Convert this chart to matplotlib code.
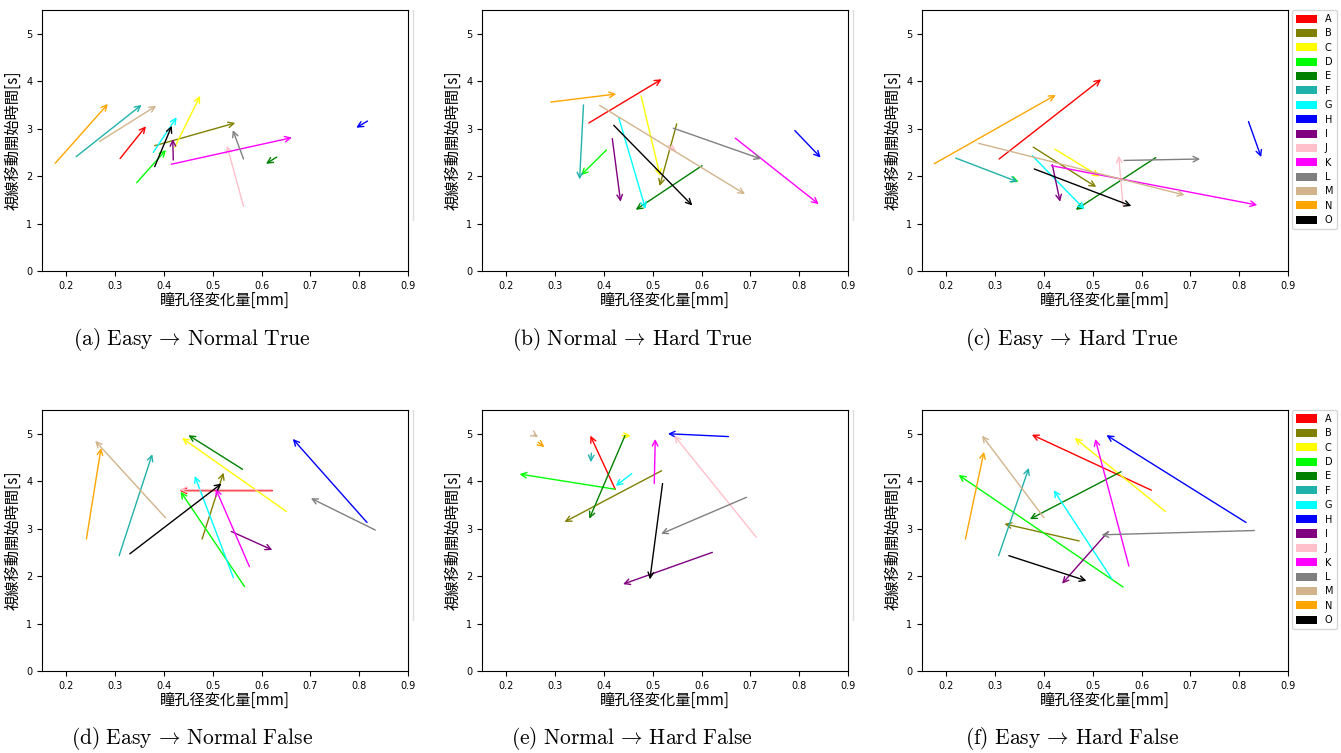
import numpy as np
import matplotlib
matplotlib.use('Agg')
import matplotlib.pyplot as plt
from matplotlib.patches import Patch

plt.rcParams['mathtext.fontset'] = 'cm'

# participants and colours
names = ['A', 'B', 'C', 'D', 'E', 'F', 'G', 'H', 'I', 'J', 'K', 'L', 'M', 'N', 'O']
colors = ['red', 'olive', 'yellow', 'lime', 'green', 'lightseagreen', 'cyan', 'blue',
          'purple', 'pink', 'magenta', 'gray', 'tan', 'orange', 'black']

# (a) Easy -> Normal True
a_x0 = [0.310, 0.381, 0.422, 0.344, 0.631, 0.220, 0.378, 0.817, 0.419, 0.563, 0.415, 0.563, 0.268, 0.177, 0.381]
a_y0 = [2.37, 2.64, 2.61, 1.86, 2.40, 2.41, 2.50, 3.16, 2.34, 1.36, 2.25, 2.36, 2.73, 2.27, 2.20]
a_x1 = [0.363, 0.546, 0.474, 0.404, 0.609, 0.354, 0.426, 0.794, 0.418, 0.529, 0.662, 0.541, 0.384, 0.285, 0.416]
a_y1 = [3.05, 3.12, 3.69, 2.55, 2.26, 3.50, 3.24, 3.02, 2.78, 2.64, 2.81, 2.97, 3.48, 3.52, 3.06]

# (b) Normal -> Hard True
b_x0 = [0.369, 0.549, 0.476, 0.405, 0.601, 0.358, 0.430, 0.791, 0.417, 0.532, 0.669, 0.542, 0.391, 0.291, 0.420]
b_y0 = [3.12, 3.10, 3.69, 2.55, 2.22, 3.50, 3.24, 2.96, 2.79, 2.64, 2.80, 3.01, 3.49, 3.56, 3.07]
b_x1 = [0.518, 0.514, 0.515, 0.353, 0.465, 0.350, 0.485, 0.844, 0.434, 0.548, 0.840, 0.722, 0.689, 0.425, 0.581]
b_y1 = [4.04, 1.79, 2.00, 2.02, 1.29, 1.93, 1.31, 2.39, 1.46, 2.52, 1.41, 2.36, 1.62, 3.73, 1.38]

# (c) Easy -> Hard True
c_x0 = [0.308, 0.378, 0.422, 0.338, 0.629, 0.219, 0.376, 0.819, 0.417, 0.562, 0.415, 0.564, 0.266, 0.175, 0.380]
c_y0 = [2.36, 2.61, 2.57, 1.92, 2.39, 2.38, 2.43, 3.15, 2.24, 1.37, 2.22, 2.33, 2.69, 2.26, 2.15]
c_x1 = [0.517, 0.507, 0.514, 0.348, 0.465, 0.346, 0.483, 0.845, 0.433, 0.553, 0.837, 0.720, 0.688, 0.424, 0.579]
c_y1 = [4.04, 1.77, 1.99, 1.88, 1.29, 1.88, 1.30, 2.40, 1.46, 2.43, 1.39, 2.36, 1.60, 3.71, 1.37]

# (d) Easy -> Normal False
d_x0 = [0.622, 0.478, 0.651, 0.565, 0.561, 0.308, 0.542, 0.816, 0.538, 0.620, 0.575, 0.833, 0.403, 0.241, 0.330]
d_y0 = [3.80, 2.78, 3.36, 1.78, 4.25, 2.43, 1.97, 3.13, 2.94, 3.82, 2.20, 2.97, 3.23, 2.78, 2.47]
d_x1 = [0.432, 0.522, 0.437, 0.434, 0.450, 0.376, 0.463, 0.664, 0.622, 0.432, 0.506, 0.701, 0.259, 0.271, 0.518]
d_y1 = [3.80, 4.18, 4.91, 3.78, 4.97, 4.57, 4.11, 4.89, 2.55, 3.82, 3.84, 3.64, 4.85, 4.70, 3.95]

# (e) Normal -> Hard False
e_x0 = [0.423, 0.518, 0.437, 0.423, 0.443, 0.374, 0.457, 0.655, 0.622, 0.712, 0.503, 0.692, 0.257, 0.265, 0.520]
e_y0 = [3.83, 4.22, 4.96, 3.83, 4.96, 4.59, 4.16, 4.94, 2.50, 2.82, 3.95, 3.66, 4.98, 4.82, 3.95]
e_x1 = [0.372, 0.319, 0.455, 0.227, 0.370, 0.373, 0.424, 0.531, 0.439, 0.544, 0.505, 0.517, 0.265, 0.278, 0.494]
e_y1 = [4.96, 3.14, 4.96, 4.15, 3.21, 4.40, 3.90, 5.00, 1.83, 4.96, 4.89, 2.89, 4.93, 4.72, 1.93]

# (f) Easy -> Hard False (J has no data)
f_x0 = [0.620, 0.472, 0.649, 0.562, 0.558, 0.307, 0.539, 0.814, 0.531, None, 0.574, 0.831, 0.400, 0.239, 0.328]
f_y0 = [3.81, 2.74, 3.36, 1.77, 4.20, 2.43, 1.94, 3.13, 2.93, None, 2.21, 2.96, 3.23, 2.78, 2.43]
f_x1 = [0.375, 0.319, 0.463, 0.225, 0.371, 0.369, 0.420, 0.528, 0.437, None, 0.505, 0.518, 0.273, 0.277, 0.487]
f_y1 = [4.98, 3.10, 4.91, 4.13, 3.20, 4.28, 3.81, 4.97, 1.84, None, 4.89, 2.87, 4.96, 4.62, 1.90]

captions = [r'$\mathrm{(a)\ Easy}\,\rightarrow\,\mathrm{Normal\ True}$',
            r'$\mathrm{(b)\ Normal}\,\rightarrow\,\mathrm{Hard\ True}$',
            r'$\mathrm{(c)\ Easy}\,\rightarrow\,\mathrm{Hard\ True}$',
            r'$\mathrm{(d)\ Easy}\,\rightarrow\,\mathrm{Normal\ False}$',
            r'$\mathrm{(e)\ Normal}\,\rightarrow\,\mathrm{Hard\ False}$',
            r'$\mathrm{(f)\ Easy}\,\rightarrow\,\mathrm{Hard\ False}$']

panels = [(a_x0, a_y0, a_x1, a_y1), (b_x0, b_y0, b_x1, b_y1), (c_x0, c_y0, c_x1, c_y1),
          (d_x0, d_y0, d_x1, d_y1), (e_x0, e_y0, e_x1, e_y1), (f_x0, f_y0, f_x1, f_y1)]

fig = plt.figure(figsize=(13.41, 7.53), dpi=100)

lefts = [42 / 1341, 482 / 1341, 922 / 1341]
bottoms = [1 - 271 / 753, 1 - 671 / 753]
w = 366 / 1341
h = 261 / 753
jp = ['Noto Sans CJK JP', 'DejaVu Sans']

for i, (x0, y0, x1, y1) in enumerate(panels):
    row, col = divmod(i, 3)
    ax = fig.add_axes([lefts[col], bottoms[row], w, h])
    for k in range(len(names)):
        if x0[k] is None:
            continue
        ax.annotate('', xy=(x1[k], y1[k]), xytext=(x0[k], y0[k]),
                    arrowprops=dict(arrowstyle='->', color=colors[k], lw=1,
                                    shrinkA=0, shrinkB=0, mutation_scale=10))
    ax.set_xlim(0.15, 0.9)
    ax.set_ylim(0, 5.5)
    ax.set_xticks(np.arange(0.2, 0.91, 0.1))
    ax.set_xticklabels(['0.2', '0.3', '0.4', '0.5', '0.6', '0.7', '0.8', '0.9'])
    ax.set_yticks(range(6))
    ax.tick_params(labelsize=7)
    ax.set_xlabel('瞳孔径変化量[mm]', family=jp, fontsize=11, labelpad=1)
    ax.set_ylabel('視線移動開始時間[s]', family=jp, fontsize=11, labelpad=3)
    if col == 2:
        handles = [Patch(facecolor=c, label=n) for n, c in zip(names, colors)]
        ax.legend(handles=handles, loc='upper left', bbox_to_anchor=(1.01, 1.0),
                  borderaxespad=0, fontsize=7, handlelength=2.2, handleheight=0.9,
                  labelspacing=0.45, borderpad=0.4)
    else:
        # clipped edge of the neighbouring legend frame
        xl = lefts[col] + w + 5 / 1341
        fig.add_artist(plt.Line2D([xl, xl], [bottoms[row] + h - 210 / 753, bottoms[row] + h],
                                  color='#dddddd', lw=1))
    cx = (lefts[col] * 1341 + 150) / 1341
    cy = 1 - (339 + row * 400) / 753
    fig.text(cx, cy, captions[i], ha='center', va='center', fontsize=15.5)

plt.savefig('out.png', dpi=100)
